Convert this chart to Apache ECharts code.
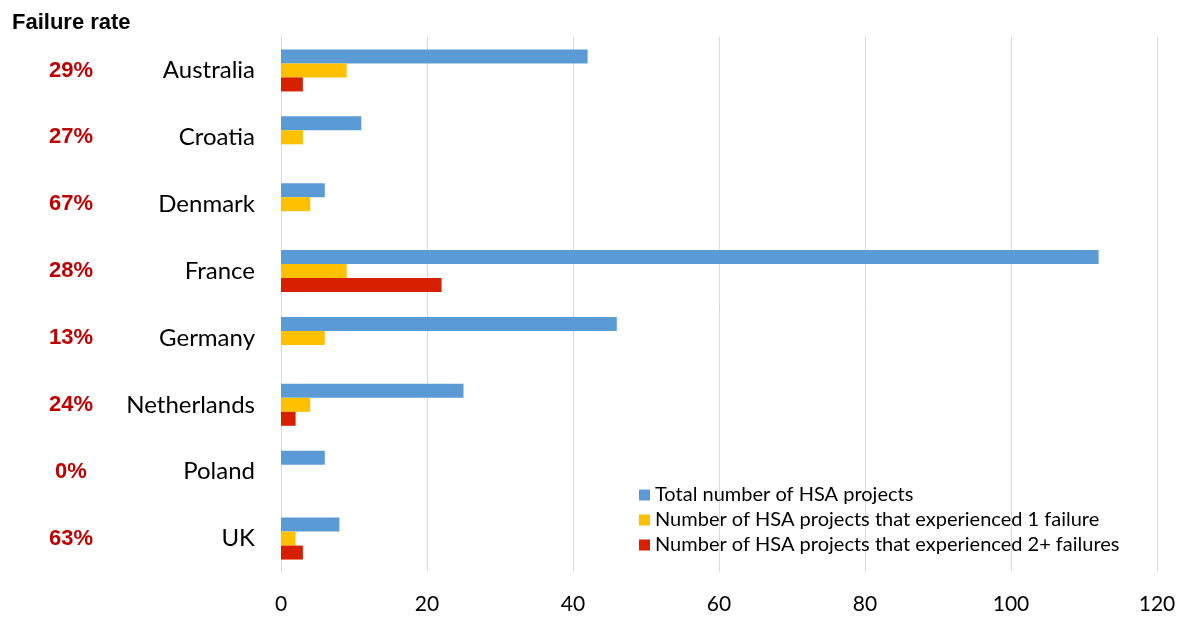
<!DOCTYPE html>
<html>
<head>
<meta charset="utf-8">
<script src="https://cdn.jsdelivr.net/npm/echarts@6/dist/echarts.min.js"></script>
<style>
  html, body { margin: 0; padding: 0; background: #fff; }
  #chart { width: 1184px; height: 618px; }
</style>
</head>
<body>
<div id="chart"></div>
<script>
const countries = ['Australia', 'Croatia', 'Denmark', 'France', 'Germany', 'Netherlands', 'Poland', 'UK'];
const failureRates = ['29%', '27%', '67%', '28%', '13%', '24%', '0%', '63%'];
const totalProjects = [42, 11, 6, 112, 46, 25, 6, 8];
const oneFailure = [9, 3, 4, 9, 6, 4, 0, 2];
const twoPlusFailures = [3, 0, 0, 22, 0, 2, 0, 3];
const xTicks = { min: 0, max: 120, interval: 20 };

const chart = echarts.init(document.getElementById('chart'));
const labelFont = 'Lato, "Open Sans", sans-serif';

const option = {
  animation: false,
  title: {
    text: 'Failure rate',
    left: 7,
    top: 7,
    textStyle: { fontFamily: 'Arial, "Liberation Sans"', fontWeight: 'bold', fontSize: 22, color: '#000' }
  },
  legend: {
    orient: 'vertical',
    left: 634,
    top: 480,
    itemWidth: 11,
    itemHeight: 11,
    itemGap: 5,
    icon: 'rect',
    textStyle: { fontFamily: labelFont, fontSize: 20, color: '#000' },
    data: [
      'Total number of HSA projects',
      'Number of HSA projects that experienced 1 failure',
      'Number of HSA projects that experienced 2+ failures'
    ]
  },
  grid: { left: 281, right: 27, top: 37, bottom: 46 },
  xAxis: {
    type: 'value',
    min: xTicks.min,
    max: xTicks.max,
    interval: xTicks.interval,
    axisLine: { show: false },
    axisTick: { show: false },
    splitLine: { lineStyle: { color: '#d9d9d9' } },
    axisLabel: { fontFamily: labelFont, fontSize: 21, color: '#000', margin: 22 }
  },
  yAxis: [
    {
      type: 'category',
      data: countries,
      inverse: true,
      axisLine: { lineStyle: { color: '#d9d9d9' } },
      axisTick: { show: false },
      axisLabel: { fontFamily: labelFont, fontSize: 24, color: '#000', margin: 26 }
    },
    {
      type: 'category',
      data: failureRates,
      inverse: true,
      position: 'left',
      offset: 215,
      axisLine: { show: false },
      axisTick: { show: false },
      axisLabel: {
        fontFamily: 'Arial, "Liberation Sans"',
        fontWeight: 'bold',
        fontSize: 22,
        color: '#C00000',
        align: 'center',
        margin: -5,
        padding: [5, 0, 0, 0]
      }
    }
  ],
  series: [
    {
      name: 'Total number of HSA projects',
      type: 'bar',
      data: totalProjects,
      barWidth: 14,
      barGap: '0%',
      itemStyle: { color: '#5B9BD5' }
    },
    {
      name: 'Number of HSA projects that experienced 1 failure',
      type: 'bar',
      data: oneFailure,
      barWidth: 14,
      barGap: '0%',
      itemStyle: { color: '#FFC000' }
    },
    {
      name: 'Number of HSA projects that experienced 2+ failures',
      type: 'bar',
      data: twoPlusFailures,
      barWidth: 14,
      barGap: '0%',
      itemStyle: { color: '#D62000' }
    }
  ]
};

chart.setOption(option);
window.addEventListener('resize', () => chart.resize());
</script>
</body>
</html>
